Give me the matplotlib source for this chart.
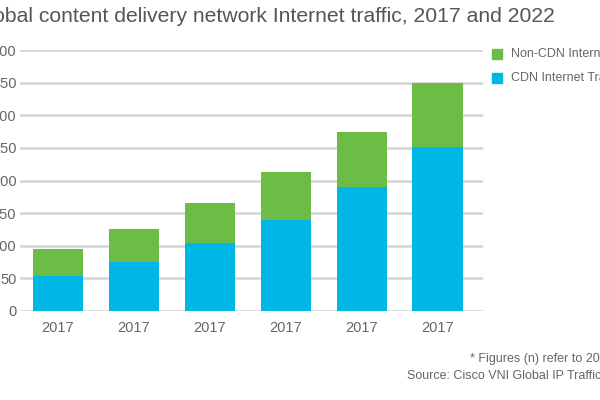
import matplotlib
matplotlib.use("Agg")
import matplotlib.pyplot as plt
import numpy as np

categories = ["2017", "2017", "2017", "2017", "2017", "2017"]
cdn = [54, 75, 104, 140, 190, 252]
non_cdn = [41, 51, 61, 73, 85, 98]
yticks = [0, 50, 100, 150, 200, 250, 300, 350, 400]

green = "#6cbd45"
blue = "#00b6e4"
grey_txt = "#666666"

plt.rcParams['font.family'] = ['Liberation Sans', 'DejaVu Sans']

fig = plt.figure(figsize=(6, 4), dpi=100)
ax = fig.add_axes([20/600, 1-311/400, 463/600, 261/400])

x = np.arange(len(categories))
ax.bar(x, cdn, width=0.66, color=blue, zorder=3, label="CDN Internet Traffic")
ax.bar(x, non_cdn, bottom=cdn, width=0.66, color=green, zorder=3, label="Non-CDN Internet Traffic")

ax.set_xlim(-0.5, 5.6)
ax.set_ylim(0, 400)
ax.set_yticks(yticks)
ax.set_yticklabels([str(v) for v in yticks])
ax.set_xticks(x)
ax.set_xticklabels(categories)
ax.grid(axis='y', color='#d4d4d4', linewidth=1.8, zorder=0)
ax.grid(axis='x', visible=False)
for s in ax.spines.values():
    s.set_visible(False)
ax.tick_params(axis='both', length=0, colors=grey_txt, labelsize=10.5)
ax.tick_params(axis='y', pad=2.5)
ax.tick_params(axis='x', pad=7)

fig.text(555/600, 1-16/400, "Global content delivery network Internet traffic, 2017 and 2022",
         ha='right', va='center', fontsize=15.2, color='#555555')

# legend
fig.patches.append(plt.Rectangle((492/600, 1-59/400), 10/600, 10/400, transform=fig.transFigure,
                                 color=green, figure=fig))
fig.patches.append(plt.Rectangle((492/600, 1-83/400), 10/600, 10/400, transform=fig.transFigure,
                                 color=blue, figure=fig))
fig.text(511/600, 1-54/400, "Non-CDN Internet Traffic", ha='left', va='center', fontsize=9, color=grey_txt)
fig.text(511/600, 1-78/400, "CDN Internet Traffic", ha='left', va='center', fontsize=9, color=grey_txt)

fig.text(470/600, 1-359/400, "* Figures (n) refer to 2017, 2022 traffic share", ha='left', va='center',
         fontsize=9, color=grey_txt)
fig.text(407/600, 1-376/400, "Source: Cisco VNI Global IP Traffic Forecast, 2017\u20132022", ha='left', va='center',
         fontsize=9, color=grey_txt)

fig.savefig("out.png", dpi=100)
